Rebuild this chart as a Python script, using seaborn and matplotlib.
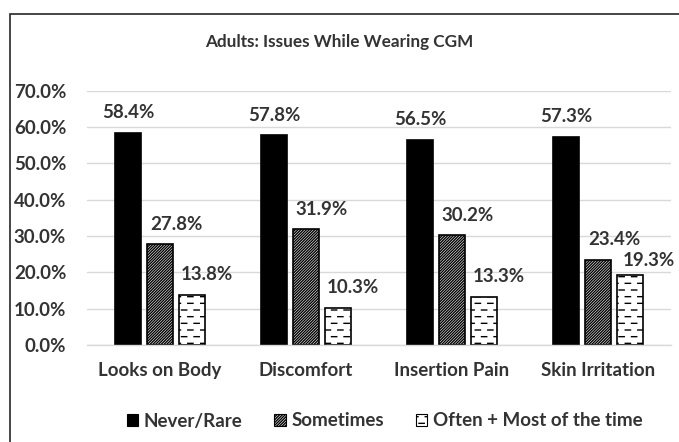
import numpy as np
import pandas as pd
import matplotlib
matplotlib.use("Agg")
import matplotlib.pyplot as plt
import matplotlib.hatch as mhatch
from matplotlib.patches import Patch, Rectangle
from matplotlib.path import Path
import seaborn as sns

# ---- data ----
categories = ["Looks on Body", "Discomfort", "Insertion Pain", "Skin Irritation"]
series_names = ["Never/Rare", "Sometimes", "Often + Most of the time"]
never_rare = [58.4, 57.8, 56.5, 57.3]
sometimes = [27.8, 31.9, 30.2, 23.4]
often_most = [13.8, 10.3, 13.3, 19.3]
y_ticks = [0, 10, 20, 30, 40, 50, 60, 70]
title = "Adults: Issues While Wearing CGM"


# ---- staggered short-dash hatch (replaces the plain horizontal-line hatch) ----
class DashedRows(mhatch.HatchPatternBase):
    def __init__(self, hatch, density):
        n = hatch.count('-') + hatch.count('+')
        self.num_rows = 15 if n else 0
        self.num_dashes = 8
        self.num_vertices = self.num_rows * self.num_dashes * 2

    def set_vertices_and_codes(self, vertices, codes):
        k = 0
        period = 1.0 / self.num_dashes
        dash = 0.42 * period
        for i in range(self.num_rows):
            y = (i + 0.5) / self.num_rows
            shift = 0.5 * period if i % 2 else 0.0
            for j in range(self.num_dashes):
                x0 = j * period + shift + 0.02 * period
                vertices[k] = (x0, y)
                vertices[k + 1] = (x0 + dash, y)
                codes[k] = Path.MOVETO
                codes[k + 1] = Path.LINETO
                k += 2


mhatch._hatch_types = [DashedRows if t is mhatch.HorizontalHatch else t
                       for t in mhatch._hatch_types]

# ---- styling ----
sns.set_theme(style="white")
plt.rcParams["font.family"] = ["Lato", "DejaVu Sans"]
plt.rcParams["font.weight"] = "bold"
plt.rcParams["hatch.linewidth"] = 1.0
TEXT = "#333333"
GRID = "#d9d9d9"
FS = 13.5

df = pd.DataFrame({
    "category": np.repeat(categories, 3),
    "series": series_names * len(categories),
    "value": np.ravel(np.column_stack([never_rare, sometimes, often_most])),
})

fig = plt.figure(figsize=(6.79, 4.42), dpi=100)
W, H = 679, 442
ax = fig.add_axes([87 / W, 1 - 345 / H, (671 - 87) / W, (345 - 90.7) / H])

sns.barplot(data=df, x="category", y="value", hue="series",
            order=categories, hue_order=series_names,
            width=0.66, gap=0.21, legend=False, ax=ax,
            palette=["black", "white", "white"], saturation=1)

faces = ["black", "white", "white"]
hatches = [None, "/" * 12, "-"]
for cont, fc, ht in zip(ax.containers, faces, hatches):
    for bar in cont:
        bar.set_facecolor(fc)
        bar.set_edgecolor("black")
        bar.set_linewidth(1.2)
        if ht:
            bar.set_hatch(ht)

# value labels above each bar
label_shift = [(0, 0), (16, 0), (15, 0)]
special = {(2, 3): (19, -6)}
for s, cont in enumerate(ax.containers):
    for c, bar in enumerate(cont):
        v = bar.get_height()
        dx, dy = special.get((s, c), label_shift[s])
        ax.annotate(f"{v:.1f}%", (bar.get_x() + bar.get_width() / 2, v),
                    xytext=(dx * 0.72, (20 + dy) * 0.72), textcoords="offset points",
                    ha="center", va="center", fontsize=FS, fontweight="bold",
                    color=TEXT)

ax.set_ylim(0, 70)
ax.set_xlim(-0.5, len(categories) - 0.5)
ax.set_yticks(y_ticks)
ax.set_yticklabels([f"{t:.1f}%" for t in y_ticks])
ax.set_xlabel("")
ax.set_ylabel("")
ax.yaxis.grid(True, color=GRID, linewidth=1.0)
ax.set_axisbelow(True)
for side in ["left", "right", "top"]:
    ax.spines[side].set_visible(False)
ax.spines["bottom"].set_color(GRID)
ax.spines["bottom"].set_linewidth(1.0)
ax.tick_params(axis="y", length=0, pad=15, labelsize=FS, labelcolor=TEXT)
ax.tick_params(axis="x", length=0, pad=12, labelsize=FS, labelcolor=TEXT)
for lbl in ax.get_xticklabels() + ax.get_yticklabels():
    lbl.set_fontweight("bold")

fig.text(0.5, 1 - 42 / H, title, ha="center", va="center",
         fontsize=12.3, fontweight="bold", color=TEXT)

handles = [Patch(facecolor=f, edgecolor="black", hatch=h, linewidth=0.8)
           for f, h in zip(faces, hatches)]
fig.legend(handles, series_names, loc="center", ncol=3,
           bbox_to_anchor=(384.5 / W, 1 - 421 / H), frameon=False,
           handlelength=0.6, handleheight=0.6,
           handletextpad=0.3, columnspacing=1.7, labelcolor=TEXT,
           prop={"weight": "bold", "size": FS})

# outer chart frame
fig.add_artist(Rectangle((10 / W, -0.1), 1.2, 1.1 - 14 / H, transform=fig.transFigure,
                         fill=False, edgecolor="#262626", linewidth=1.2))

fig.savefig("out.png", dpi=100)
